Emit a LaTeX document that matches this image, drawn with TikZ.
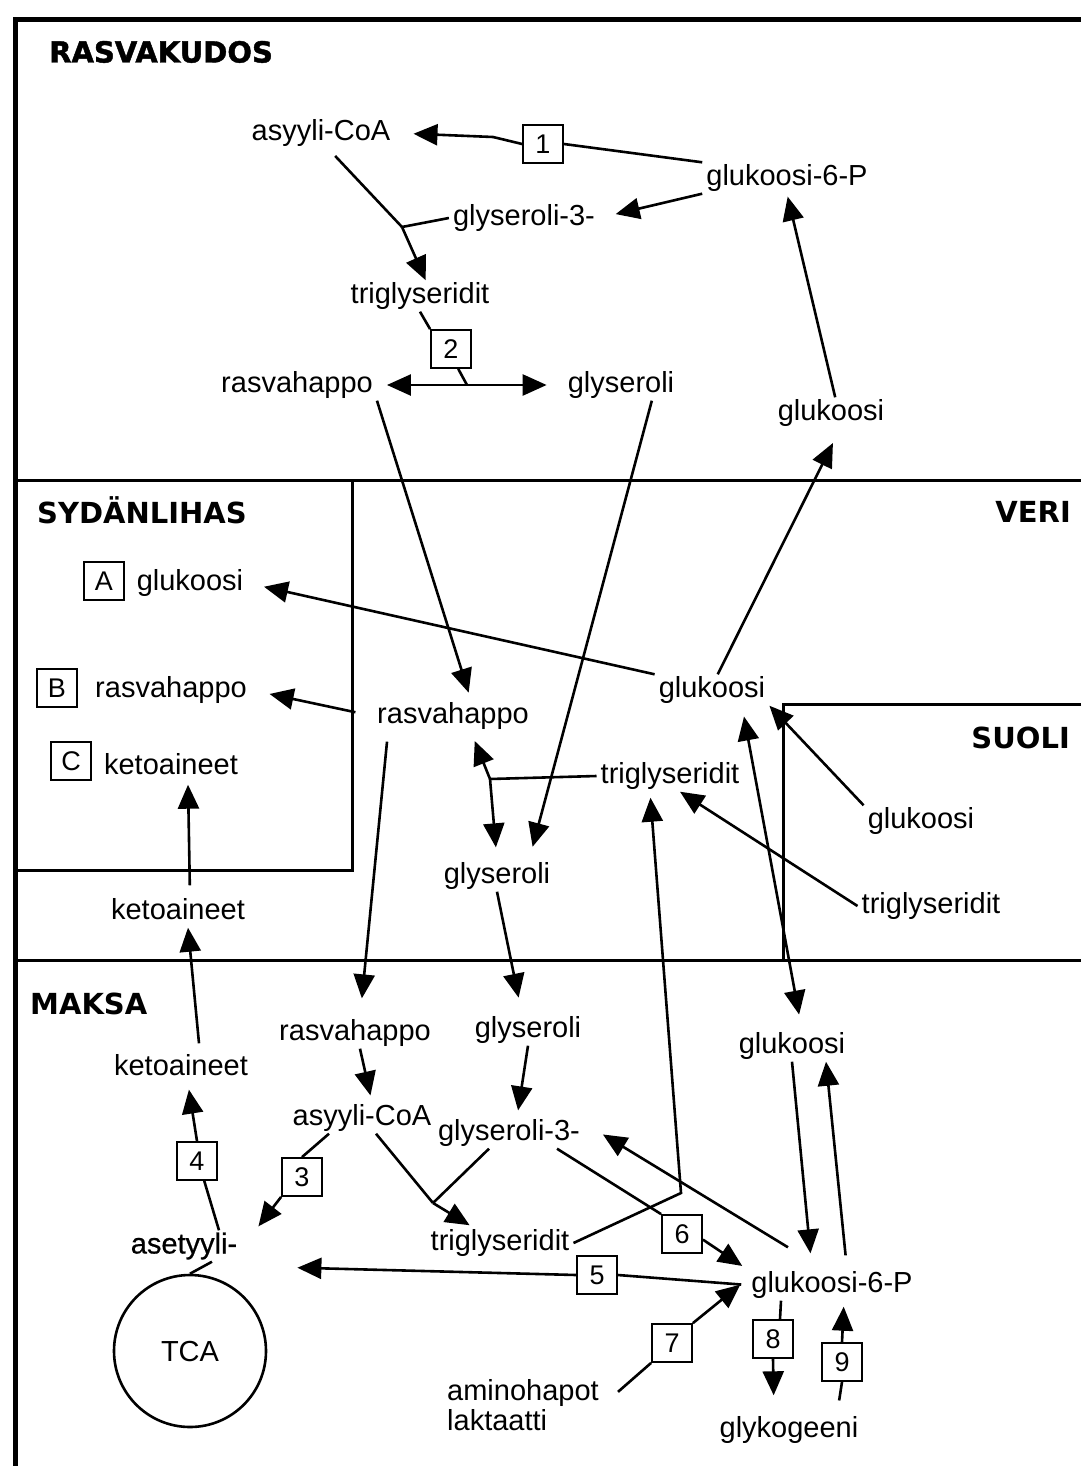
\documentclass[tikz,border=0pt]{standalone}
\usepackage{fontspec}
\setmainfont{Liberation Sans}
\newfontfamily\headfont{DejaVu Sans}
\newfontfamily\blackfont{DejaVu Sans}[BoldFeatures={FakeBold=1.5}]
\newfontfamily\semifont{Liberation Sans}[FakeBold=0.6]
\usetikzlibrary{arrows.meta}

\begin{document}
\begin{tikzpicture}[x=1pt,y=-1pt,
  every node/.style={font=\fontsize{29}{30}\selectfont},
  lbl/.style={text height=21pt,text depth=6pt,inner xsep=4pt,inner ysep=2pt},
  hdr/.style={font=\fontsize{29}{30}\headfont\bfseries,text height=21pt,text depth=0pt,inner sep=0pt},
  nbox/.style={draw,line width=1.8pt,minimum width=40pt,minimum height=38pt,inner sep=0pt,font=\fontsize{27}{28}\selectfont},
  tri/.tip={Triangle[length=24pt,width=21pt]},
  ln/.style={line width=2.6pt},
  arr/.style={ln,-tri},
  wall/.style={line width=3pt}]
\useasboundingbox (0,0) rectangle (1081,1466);

% compartments
\draw[line width=5pt] (15,1466) -- (15,20) -- (1081,20);
\draw[wall] (15,480) -- (1081,480);
\draw[wall] (352,480) -- (352,870) -- (15,870);
\draw[wall] (15,960) -- (1081,960);
\draw[wall] (1081,704) -- (783,704) -- (783,960);

\node[hdr,anchor=west,font=\fontsize{29}{30}\blackfont\bfseries] (hRas) at (49,52) {RASVAKUDOS};
\node[hdr,anchor=west] (hSyd) at (37,513) {SYDÄNLIHAS};
\node[hdr,anchor=east] (hVeri) at (1071,512) {VERI};
\node[hdr,anchor=east] (hSuoli) at (1070,738) {SUOLI};
\node[hdr,anchor=west] (hMaksa) at (30,1004) {MAKSA};

% numbered and lettered boxes
\foreach \n/\x/\y in {1/543/144, 2/451/349, 3/302/1177, 4/197/1161, 5/597/1275,
                      6/682/1234, 7/672/1343, 8/773/1339, 9/842/1362,
                      A/104/581, B/57/688, C/71/761}
  \node[nbox] (b\n) at (\x,\y) {\n};

% rasvakudos
\node[lbl] (acoa1) at (321,133) {asyyli-CoA};
\node[lbl] (g6p1) at (787,178) {glukoosi-6-P};
\node[lbl] (gly3p1) at (524,218) {glyseroli-3-};
\node[lbl] (tg1) at (420,296) {triglyseridit};
\node[lbl] (rh1) at (297,385) {rasvahappo};
\node[lbl] (gly1) at (621,385) {glyseroli};
\node[lbl] (glu1) at (831,413) {glukoosi};
\coordinate (k1) at (493,137);
\coordinate (k2) at (402,227);
\coordinate (j2) at (467,385);

% sydanlihas, veri, suoli
\node[lbl] (gluA) at (190,583) {glukoosi};
\node[lbl] (rhB) at (171,690) {rasvahappo};
\node[lbl] (ketoC) at (171,767) {ketoaineet};
\node[lbl] (keto2) at (178,912) {ketoaineet};
\node[lbl] (glu2) at (712,690) {glukoosi};
\node[lbl] (rh2) at (453,716) {rasvahappo};
\node[lbl] (tg2) at (670,776) {triglyseridit};
\node[lbl] (gly2) at (497,876) {glyseroli};
\node[lbl] (gluS) at (921,821) {glukoosi};
\node[lbl] (tgS) at (931,906) {triglyseridit};
\coordinate (j3) at (490,779);

% maksa
\node[lbl] (keto3) at (181,1068) {ketoaineet};
\node[lbl] (rh3) at (355,1033) {rasvahappo};
\node[lbl] (gly3) at (528,1030) {glyseroli};
\node[lbl] (acoa3) at (362,1118) {asyyli-CoA};
\node[lbl] (gly3p3) at (509,1133) {glyseroli-3-};
\node[lbl,font=\fontsize{29}{30}\semifont] (aset) at (184,1246) {asetyyli-};
\node[lbl] (tg3) at (500,1243) {triglyseridit};
\node[lbl] (glu3) at (792,1046) {glukoosi};
\node[lbl] (g6p3) at (832,1285) {glukoosi-6-P};
\node[lbl] (glyk) at (789,1430) {glykogeeni};
\node[align=left,anchor=west,inner sep=4pt] (amino) at (443,1405) {aminohapot\\laktaatti};
\node[draw,circle,line width=2.6pt,minimum size=152pt,inner sep=0pt] (tca) at (190,1351) {TCA};
\coordinate (k5) at (681,1193);
\coordinate (k6) at (433,1203);

% arrows in rasvakudos
\draw[ln] (g6p1.north west) -- (b1.east);
\draw[arr,shorten >=19pt] (b1.west) -- (k1) -- (acoa1.east);
\draw[arr,shorten >=17pt] (g6p1.south west) -- (gly3p1.east);
\draw[ln,shorten <=10pt] (acoa1.-65) -- (k2);
\draw[ln] (gly3p1.west) -- (k2);
\draw[arr] (k2) -- (tg1.70);
\draw[ln] (tg1.south) -- (b2.north west);
\draw[ln] (b2.-70) -- (j2);
\draw[ln,tri-tri,shorten <=10pt,shorten >=17pt] (rh1.east) -- (gly1.west);
\draw[arr,shorten >=8pt] (rh1.south east) -- (rh2.41);
\draw[arr,shorten >=14pt] (gly1.-27) -- ([xshift=32pt]gly2.north);
\draw[arr,shorten >=3pt] (glu1.75) -- (g6p1.south);
\draw[arr,shorten >=16pt] (glu2.70) -- (glu1.-60);

% arrows in veri
\draw[arr,shorten >=17pt] (glu2.north west) -- (gluA.east);
\draw[arr,shorten <=18pt,shorten >=19pt] (rh2.west) -- (rhB.east);
\draw[arr,shorten <=11pt,shorten >=2pt] ([xshift=12pt]keto2.north) -- ([xshift=17pt]ketoC.south);
\draw[ln] (tg2.west) -- (j3);
\draw[arr,shorten >=10pt] (j3) -- ([xshift=18pt]rh2.south);
\draw[arr,shorten >=13pt] (j3) -- (gly2.north);
\draw[arr] (gluS.north west) -- (glu2.south east);
\draw[arr] (tgS.west) -- ([xshift=10pt]tg2.south);
\draw[ln,tri-tri,shorten <=11pt,shorten >=16pt] ([xshift=30pt]glu2.south) -- ([xshift=10pt]glu3.north);

% arrows into maksa
\draw[arr] ([xshift=18pt,yshift=9pt]keto3.north) -- ([xshift=10pt]keto2.south);
\draw[arr,shorten <=10pt,shorten >=19pt] ([xshift=-65pt]rh2.south) -- ([xshift=5pt]rh3.north);
\draw[arr,shorten >=17pt] (gly2.south) -- ([xshift=-6pt]gly3.north);
\draw[arr,shorten >=7pt] ([xshift=5pt]rh3.south) -- ([xshift=10pt]acoa3.north);
\draw[arr,shorten >=7pt] (gly3.south) -- ([xshift=8pt]gly3p3.north);

% 3 and 4
\draw[ln] ([xshift=-33pt]acoa3.south) -- (b3.north);
\draw[arr,shorten >=5pt] (b3.south west) -- ([xshift=14pt]aset.north east);
\draw[ln] ([xshift=35pt]aset.north) -- (b4.-70);
\draw[arr,shorten >=6pt] (b4.north) -- ([xshift=7pt]keto3.south);
\draw[ln] ([xshift=28pt]aset.south) -- (tca.north);

% triglyseridit in maksa
\draw[ln] ([xshift=14pt]acoa3.south) -- (k6);
\draw[ln] ([xshift=-20pt]gly3p3.south) -- (k6);
\draw[arr,shorten >=4pt] (k6) -- ([xshift=-27pt]tg3.north);
\draw[arr,shorten >=6pt] (tg3.east) -- (k5) -- ([xshift=-20pt]tg2.south);

% glukoosi-6-P
\draw[ln] ([xshift=48pt]gly3p3.south) -- (b6.north west);
\draw[arr,shorten >=6pt] (b6.-15) -- (g6p3.north west);
\draw[arr,shorten >=22pt] ([xshift=-44pt,yshift=22pt]g6p3.north) -- ([yshift=10pt]gly3p3.east);
\draw[ln,shorten <=6pt] (g6p3.west) -- (b5.east);
\draw[arr] (b5.west) -- ([shift={(56,6)}]aset.south east);
\draw[ln,shorten <=20pt] (amino.east) -- (b7.south west);
\draw[arr,shorten >=9pt] (b7.north east) -- ([yshift=6pt]g6p3.west);
\draw[ln] ([xshift=-51pt]g6p3.south) -- ([xshift=7pt]b8.north);
\draw[arr,shorten >=19pt] (b8.south) -- ([xshift=-15pt]glyk.north);
\draw[ln,shorten <=14pt] ([xshift=48pt]glyk.north) -- (b9.south);
\draw[arr,shorten >=6pt] (b9.north) -- ([xshift=12pt]g6p3.south);
\draw[arr,shorten >=16pt] (glu3.south) -- ([xshift=-20pt]g6p3.north);
\draw[arr,shorten <=14pt] ([xshift=15pt]g6p3.north) -- ([xshift=34pt]glu3.south);
\end{tikzpicture}
\end{document}
